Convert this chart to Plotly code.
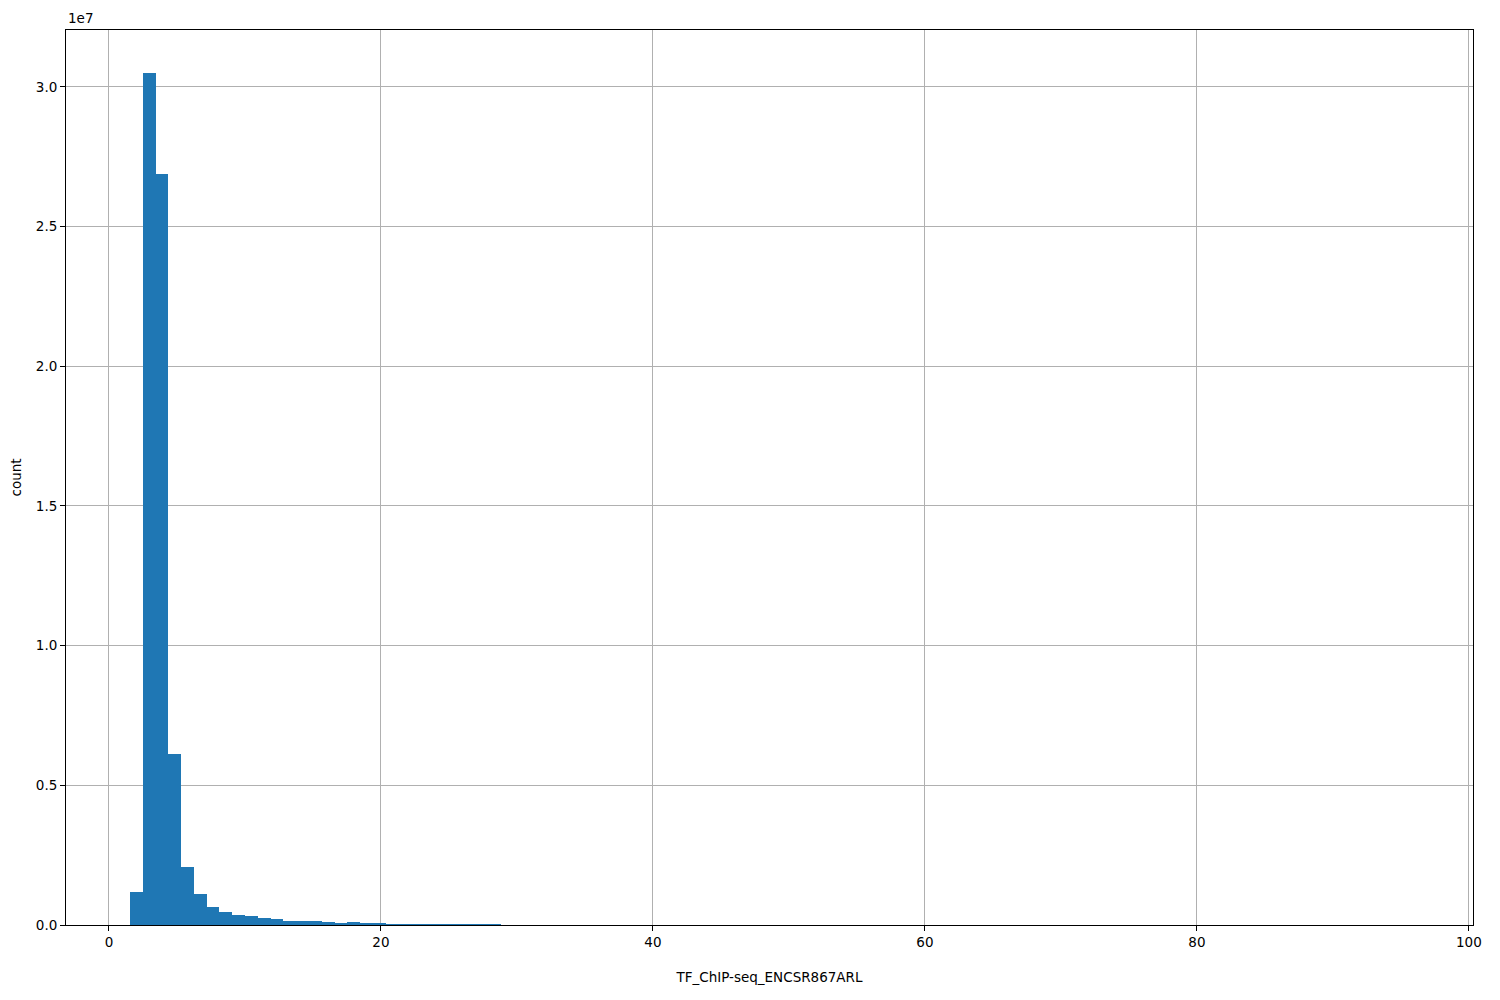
import plotly.graph_objects as go

# Histogram data (bin counts)
bin_start = 1.54
bin_width = 0.9406
counts = [
    1.18e6, 30.5e6, 26.9e6, 6.12e6, 2.09e6, 1.11e6, 0.65e6, 0.47e6, 0.37e6, 0.32e6,
    0.25e6, 0.21e6, 0.14e6, 0.13e6, 0.13e6, 0.09e6, 0.06e6, 0.09e6, 0.06e6, 0.04e6,
    0.035e6, 0.03e6, 0.03e6, 0.028e6, 0.025e6, 0.025e6, 0.02e6, 0.02e6, 0.02e6, 0.00009e6,
    0.00008e6, 0.00007e6, 0.00006e6, 0.00005e6, 0.00005e6, 0.00004e6, 0.00004e6, 0.00003e6, 0.00003e6, 0.00003e6,
    0.00002e6, 0.00002e6, 0.00002e6, 0.00002e6, 0.000015e6, 0.000015e6, 0.000015e6, 0.00001e6, 0.00001e6, 0.00001e6,
    0.00001e6, 0.000008e6, 0.000008e6, 0.000008e6, 0.000006e6, 0.000006e6, 0.000006e6, 0.000005e6, 0.000005e6, 0.000005e6,
    0.000004e6, 0.000004e6, 0.000004e6, 0.000003e6, 0.000003e6, 0.000003e6, 0.000003e6, 0.000002e6, 0.000002e6, 0.000002e6,
    0.000002e6, 0.000002e6, 0.000001e6, 0.000001e6, 0.000001e6, 0.000001e6, 0.000001e6, 0.000001e6, 0.000001e6, 0.000001e6,
    0.000001e6, 0.000001e6, 0.000001e6, 0.000001e6, 0.000001e6, 0.000001e6, 0.000001e6, 0.000001e6, 0.000001e6, 0.000001e6,
    0.000001e6, 0.000001e6, 0.000001e6, 0.000001e6, 0.000001e6, 0.000001e6, 0.000001e6, 0.000001e6, 0.000001e6, 0.000001e6,
]
x_ticks = [0, 20, 40, 60, 80, 100]
y_ticks = [0, 0.5e7, 1.0e7, 1.5e7, 2.0e7, 2.5e7, 3.0e7]
y_tick_labels = ["0.0", "0.5", "1.0", "1.5", "2.0", "2.5", "3.0"]
x_label = "TF_ChIP-seq_ENCSR867ARL"
y_label = "count"

centers = [bin_start + (i + 0.5) * bin_width for i in range(len(counts))]

fig = go.Figure()
fig.add_trace(go.Bar(
    x=centers, y=counts, width=[bin_width] * len(counts),
    marker=dict(color="#1f77b4", line=dict(width=0)),
    hoverinfo="x+y",
))

font = dict(family="DejaVu Sans", size=13.5, color="black")
axis_common = dict(
    showgrid=True, gridcolor="#b0b0b0", gridwidth=1,
    showline=True, linecolor="black", linewidth=1, mirror=True,
    ticks="outside", ticklen=5, tickwidth=1, tickcolor="black",
    zeroline=False, tickfont=font, automargin=False,
)
fig.update_layout(
    width=1500, height=1000,
    margin=dict(l=58, r=35, t=22, b=83),
    plot_bgcolor="white", paper_bgcolor="white",
    bargap=0, showlegend=False, font=font,
    xaxis=dict(range=[-3.16, 100.3], tickvals=x_ticks,
               title=dict(text=x_label, font=font, standoff=23), **axis_common),
    yaxis=dict(range=[0, 3.204e7], tickvals=y_ticks, ticktext=y_tick_labels,
               title=dict(text=y_label, font=font, standoff=11), **axis_common),
    annotations=[dict(text="1e7", xref="paper", yref="paper", x=0, y=1,
                      xanchor="left", yanchor="bottom", showarrow=False,
                      yshift=2, font=font)],
)
fig.write_html("out.html")
